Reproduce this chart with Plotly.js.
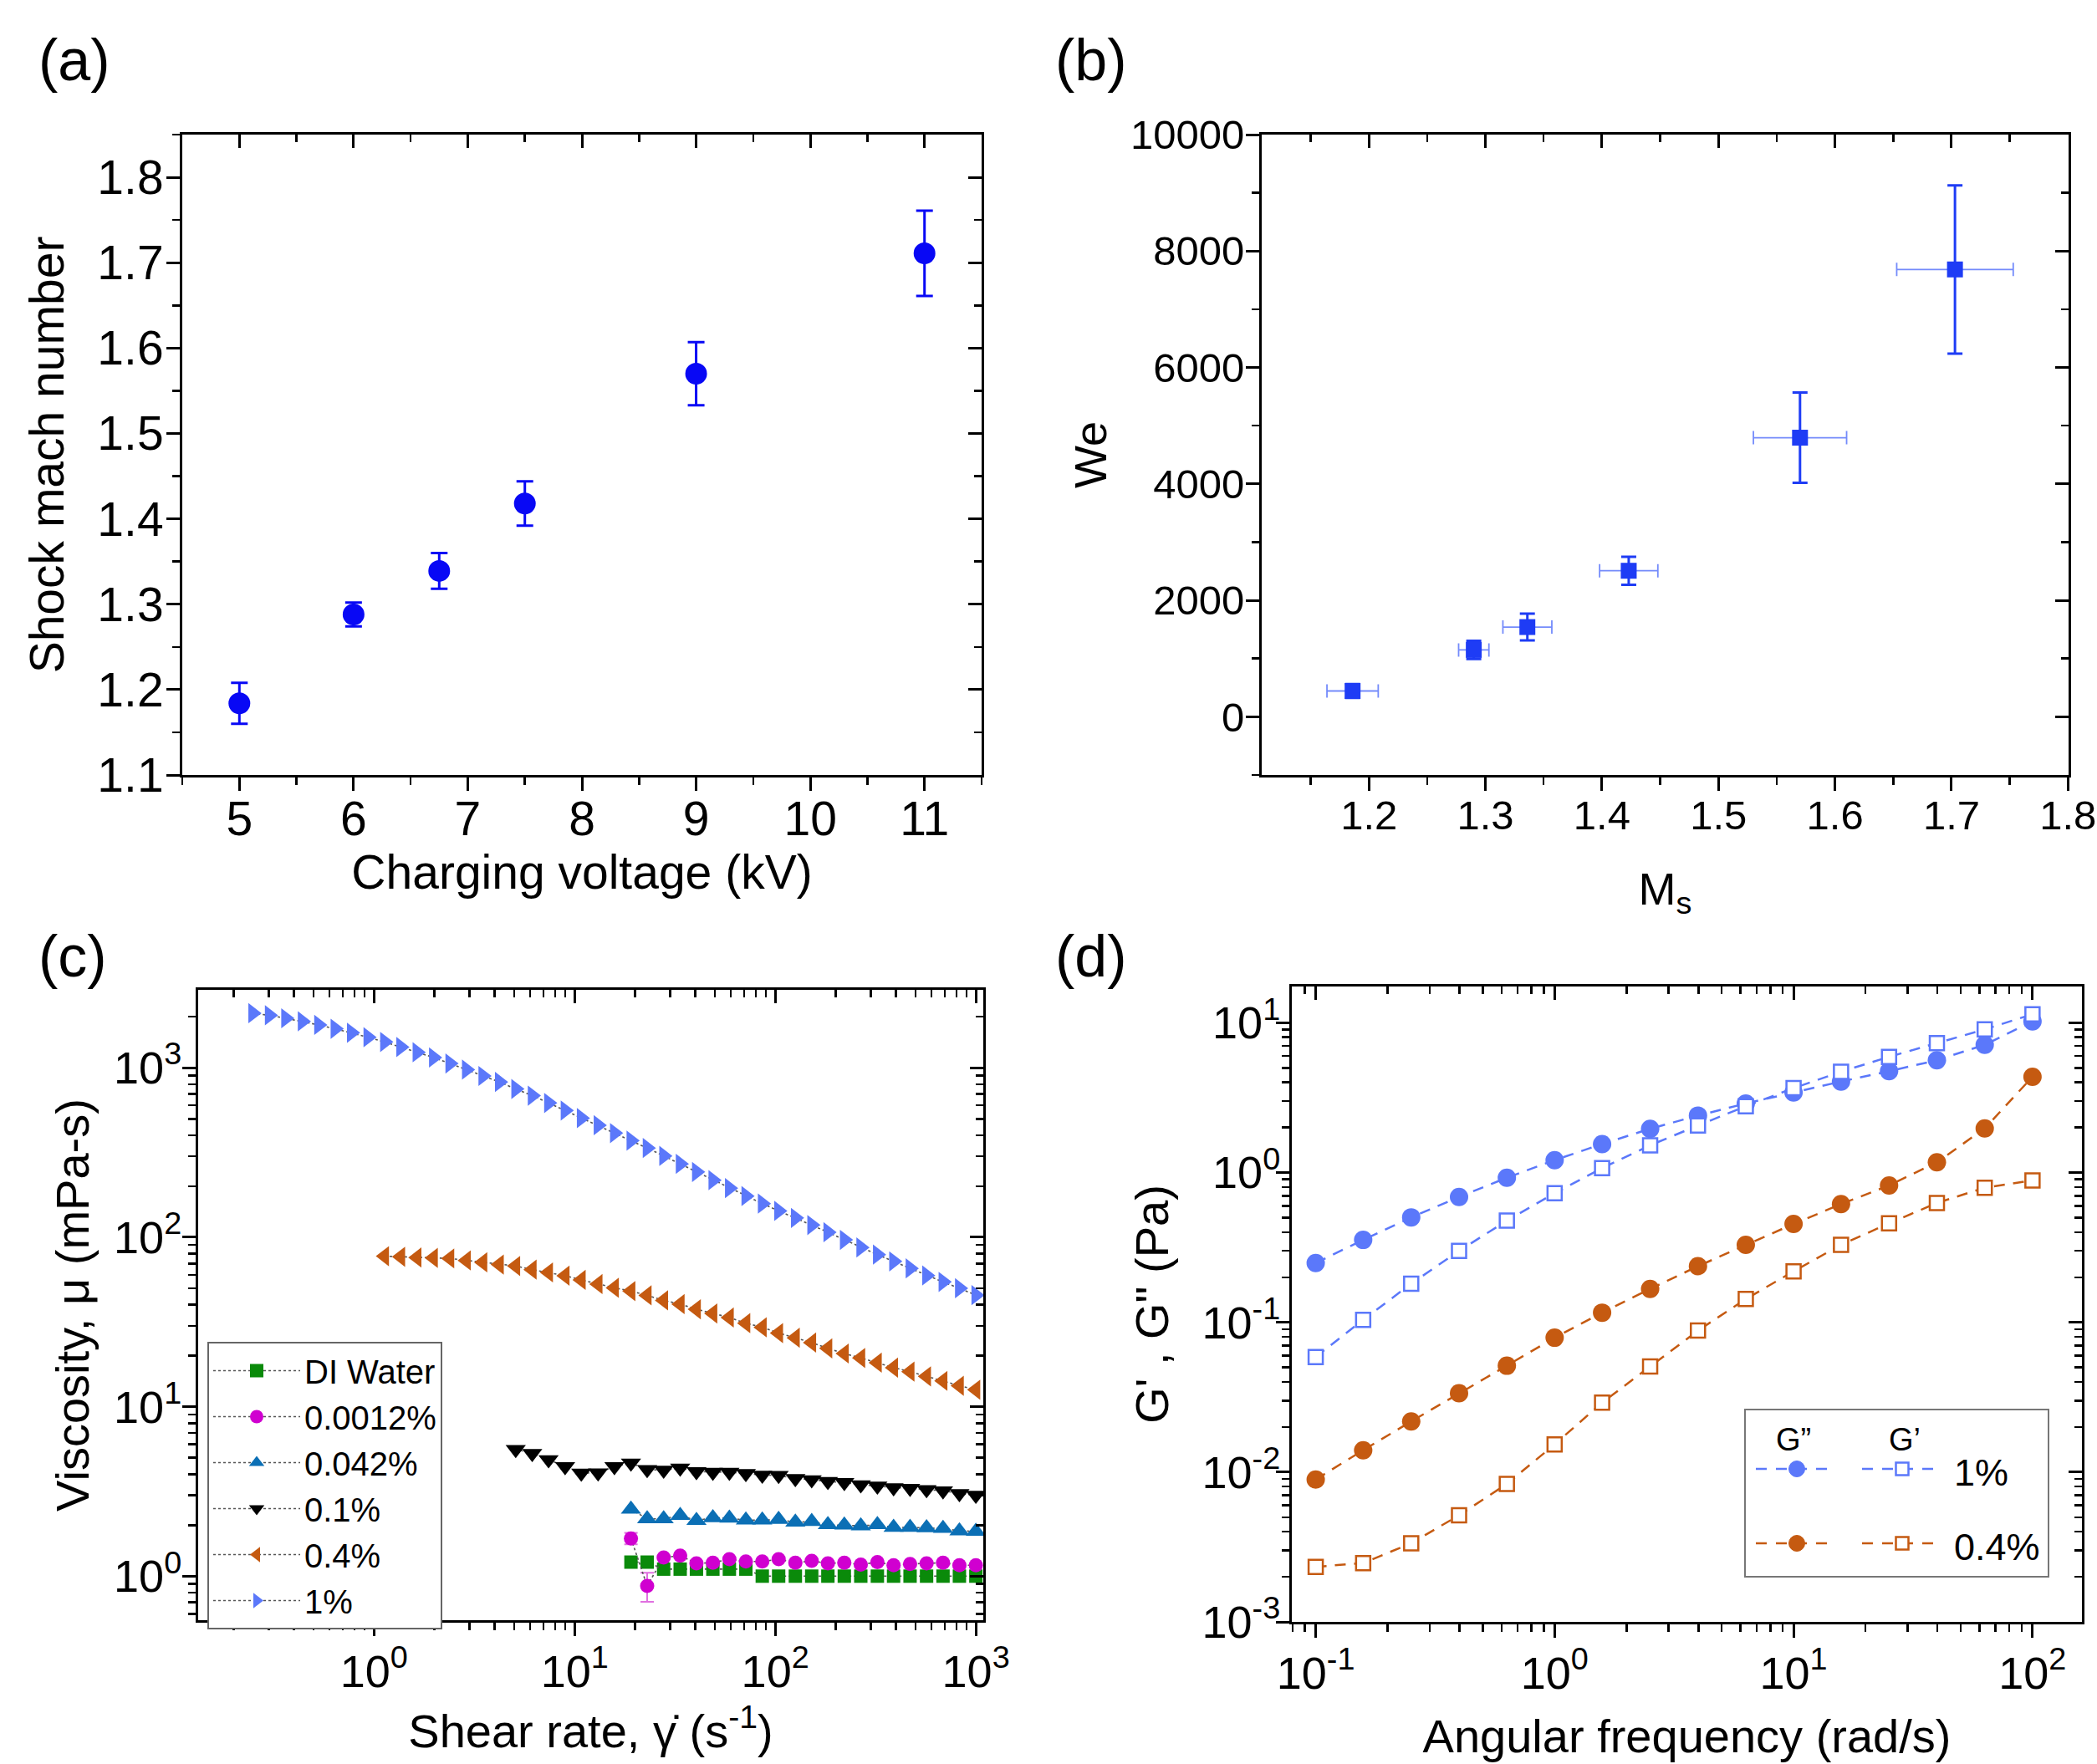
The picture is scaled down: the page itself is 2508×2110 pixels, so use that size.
<!DOCTYPE html>
<html><head><meta charset="utf-8">
<script src="https://cdn.plot.ly/plotly-3.0.1.min.js"></script>
<style>html,body{margin:0;padding:0;background:#fff}#chart{width:2508px;height:2110px}</style>
</head><body><div id="chart"></div>
<script>
// ---------- (a) Shock Mach number vs charging voltage ----------
const voltage = [5, 6, 6.75, 7.5, 9, 11];
const machNumber = [1.184, 1.288, 1.339, 1.418, 1.570, 1.711];
const machErr = [0.024, 0.014, 0.021, 0.026, 0.037, 0.050];

// ---------- (b) We vs Ms ----------
const msValues = [1.186, 1.290, 1.336, 1.423, 1.570, 1.703];
const msErr = [0.022, 0.013, 0.021, 0.025, 0.040, 0.050];
const weValues = [443, 1148, 1541, 2508, 4794, 7684];
const weErr = [120, 156, 230, 240, 775, 1445];

// ---------- (c) Viscosity vs shear rate ----------
const shearRate = [0.249, 0.301, 0.363, 0.439, 0.530, 0.640, 0.772, 0.933, 1.13, 1.36, 1.64, 1.98, 2.39, 2.89, 3.49, 4.22,
  5.09, 6.15, 7.42, 8.97, 10.8, 13.1, 15.8, 19.1, 23.0, 27.8, 33.6, 40.5, 48.9, 59.1, 71.4, 86.2, 104, 126, 152, 183,
  221, 267, 323, 389, 470, 568, 686, 828, 1000];
const visc1 = [2100, 2040, 1960, 1880, 1790, 1700, 1610, 1515, 1420, 1325, 1235, 1150, 1060, 975, 895, 825, 750, 685,
  620, 560, 505, 458, 412, 372, 336, 302, 271, 243, 217, 195, 175, 158, 143, 130, 118, 107, 96.5, 87, 79, 72, 65.5,
  59.5, 54.5, 50, 45.5];
const visc04 = [77.3, 76.7, 75.9, 75.5, 75.0, 73.0, 71.1, 69.0, 67.7, 64.4, 62.0, 59.3, 56.0, 52.9, 50.3, 48.1, 45.4,
  42.4, 40.3, 37.6, 35.5, 33.6, 31.1, 29.4, 27.2, 25.5, 23.9, 22.1, 20.6, 19.4, 18.2, 17.0, 16.1, 15.1, 14.2, 13.3, 12.6];
const visc01 = [5.6, 5.3, 4.87, 4.43, 4.06, 4.07, 4.43, 4.65, 4.26, 4.22, 4.35, 4.14, 4.11, 4.10, 4.03, 3.95, 3.93,
  3.77, 3.71, 3.62, 3.57, 3.46, 3.40, 3.33, 3.30, 3.24, 3.19, 3.07, 3.00];
const visc0042 = [2.48, 2.18, 2.18, 2.28, 2.13, 2.21, 2.20, 2.14, 2.14, 2.16, 2.08, 2.10, 2.01, 2.00, 1.98, 2.01, 1.94,
  1.94, 1.93, 1.91, 1.85, 1.84];
const visc00012 = [1.67, 0.876, 1.29, 1.32, 1.19, 1.20, 1.26, 1.22, 1.22, 1.26, 1.20, 1.23, 1.19, 1.20, 1.17, 1.21,
  1.16, 1.18, 1.19, 1.20, 1.16, 1.16];
const visc00012Err = [0.13, 0.17, 0.02, 0.02, 0.02, 0.02, 0.02, 0.02, 0.02, 0.02, 0.02, 0.02, 0.02, 0.02, 0.02, 0.02,
  0.02, 0.02, 0.02, 0.02, 0.02, 0.02];
const viscWater = [1.21, 1.21, 1.10, 1.10, 1.10, 1.10, 1.10, 1.10, 1.00, 1.00, 1.00, 1.00, 1.00, 1.00, 1.00, 1.00,
  1.00, 1.00, 1.00, 1.00, 1.00, 1.00];
const viscLabels = ['DI Water', '0.0012%', '0.042%', '0.1%', '0.4%', '1%'];

// ---------- (d) G', G'' vs angular frequency ----------
const angFreq = [0.1, 0.158, 0.251, 0.398, 0.631, 1, 1.58, 2.51, 3.98, 6.31, 10, 15.8, 25.1, 39.8, 63.1, 100];
const gpp1 = [0.249, 0.355, 0.502, 0.687, 0.923, 1.21, 1.55, 1.96, 2.40, 2.89, 3.42, 4.05, 4.75, 5.62, 7.13, 10.2];
const gp1 = [0.0587, 0.104, 0.181, 0.300, 0.477, 0.728, 1.07, 1.52, 2.06, 2.77, 3.66, 4.71, 5.92, 7.31, 9.03, 11.4];
const gpp04 = [0.00892, 0.0140, 0.0218, 0.0336, 0.0513, 0.0789, 0.116, 0.167, 0.237, 0.329, 0.454, 0.615, 0.820,
  1.17, 1.97, 4.36];
const gp04 = [0.00233, 0.00247, 0.00335, 0.00515, 0.00834, 0.0153, 0.0291, 0.0508, 0.0880, 0.143, 0.219, 0.329,
  0.458, 0.626, 0.792, 0.885];

// log tick labels
const cXTickVals = [1, 10, 100, 1000];
const cXTickText = ['10<sup>0</sup>', '10<sup>1</sup>', '10<sup>2</sup>', '10<sup>3</sup>'];
const cYTickVals = [1, 10, 100, 1000];
const cYTickText = ['10<sup>0</sup>', '10<sup>1</sup>', '10<sup>2</sup>', '10<sup>3</sup>'];
const dXTickVals = [0.1, 1, 10, 100];
const dXTickText = ['10<sup>-1</sup>', '10<sup>0</sup>', '10<sup>1</sup>', '10<sup>2</sup>'];
const dYTickVals = [0.001, 0.01, 0.1, 1, 10];
const dYTickText = ['10<sup>-3</sup>', '10<sup>-2</sup>', '10<sup>-1</sup>', '10<sup>0</sup>', '10<sup>1</sup>'];

// ---------- styling ----------
const W = 2508, H = 2110;
const F = 'Liberation Sans, Arial, Helvetica, sans-serif';
const fnt = s => ({family: F, size: s, color: '#000'});
const BLUE_A = '#0808f5';
const BLUE_B = '#1e3cf5';
const BLUE_L = '#5b78fa';
const ORANGE = '#c55a11';
const px = v => v / W;
const py = v => 1 - v / H;

function logMinor(e0, e1) {
  const v = [];
  for (let e = e0; e < e1; e++) for (let m = 2; m <= 9; m++) v.push(m * Math.pow(10, e));
  return v;
}
function axis(o) {
  return Object.assign({
    showline: true, linecolor: '#000', linewidth: 3,
    ticks: 'outside', ticklen: 16, tickwidth: 3, tickcolor: '#000',
    showgrid: false, zeroline: false, fixedrange: true
  }, o);
}
function mirror(main, overlayId, anchorId, side) {
  const m = Object.assign({}, main, {
    overlaying: overlayId, anchor: anchorId, side: side, ticks: 'inside', showticklabels: false
  });
  m.minor = Object.assign({}, main.minor, {ticks: 'inside'});
  delete m.domain;
  delete m.title;
  return m;
}
const minorLin = d => ({dtick: d, ticks: 'outside', ticklen: 9, tickwidth: 2.5, tickcolor: '#000', showgrid: false});
const minorLog = vals => ({tickmode: 'array', tickvals: vals, ticks: 'outside', ticklen: 9, tickwidth: 2.5, tickcolor: '#000', showgrid: false});

// domains
const dom = {
  a: {x: [px(218), px(1174)], y: [py(927), py(161)]},
  b: {x: [px(1509), px(2474)], y: [py(927), py(161)]},
  c: {x: [px(237), px(1176)], y: [py(1938), py(1184)]},
  d: {x: [px(1545), px(2490)], y: [py(1940), py(1180)]}
};

const xa = axis({domain: dom.a.x, anchor: 'y', range: [4.5, 11.5], tickmode: 'linear', tick0: 5, dtick: 1, minor: minorLin(0.5),
  tickfont: fnt(57), ticklabelstandoff: -15,
  title: {text: 'Charging voltage (kV)', font: fnt(57), standoff: 10}});
const ya = axis({domain: dom.a.y, anchor: 'x', range: [1.1, 1.85], tickmode: 'linear', tick0: 1.1, dtick: 0.1, minor: minorLin(0.05),
  tickformat: '.1f', tickfont: fnt(57), ticklabelstandoff: -8,
  title: {text: 'Shock mach number', font: fnt(57), standoff: 22}});
const xb = axis({domain: dom.b.x, anchor: 'y2', range: [1.108, 1.8005], tickmode: 'linear', tick0: 1.2, dtick: 0.1, minor: minorLin(0.05),
  tickformat: '.1f', tickfont: fnt(49), ticklabelstandoff: -13,
  title: {text: 'M<sub>s</sub>', font: fnt(54), standoff: 44}});
const yb = axis({domain: dom.b.y, anchor: 'x2', range: [-1000, 10000], tickmode: 'linear', tick0: 0, dtick: 2000, minor: minorLin(1000),
  tickformat: 'd', tickfont: fnt(49), ticklabelstandoff: -8,
  title: {text: 'We', font: fnt(54), standoff: 12}});
const xc = axis({domain: dom.c.x, anchor: 'y3', type: 'log', range: [-0.876, 3.037], tickmode: 'array', tickvals: cXTickVals,
  ticktext: cXTickText, minor: minorLog(logMinor(-1, 4)), tickfont: fnt(54), ticklabelstandoff: -4,
  title: {text: 'Shear rate, γ̇ (s<sup>-1</sup>)', font: fnt(56), standoff: 24}});
const yc = axis({domain: dom.c.y, anchor: 'x3', type: 'log', range: [-0.26, 3.46], tickmode: 'array', tickvals: cYTickVals,
  ticktext: cYTickText, minor: minorLog(logMinor(-1, 4)), tickfont: fnt(54), ticklabelstandoff: -10,
  title: {text: 'Viscosity, μ (mPa-s)', font: fnt(56), standoff: 12}});
const xd = axis({domain: dom.d.x, anchor: 'y4', type: 'log', range: [-1.10, 2.207], tickmode: 'array', tickvals: dXTickVals,
  ticktext: dXTickText, minor: minorLog(logMinor(-2, 3)), tickfont: fnt(54), ticklabelstandoff: -4,
  title: {text: 'Angular frequency (rad/s)', font: fnt(56), standoff: 28}});
const yd = axis({domain: dom.d.y, anchor: 'x4', type: 'log', range: [-3, 1.242], tickmode: 'array', tickvals: dYTickVals,
  ticktext: dYTickText, minor: minorLog(logMinor(-3, 2)), tickfont: fnt(54), ticklabelstandoff: -16,
  title: {text: 'G\' , G" (Pa)', font: fnt(56), standoff: 22}});

const lineC = {color: '#555', width: 1.6, dash: 'dot'};
const traces = [
  // (a)
  {type: 'scatter', mode: 'markers', x: voltage, y: machNumber, xaxis: 'x', yaxis: 'y', showlegend: false,
    marker: {color: BLUE_A, size: 26, symbol: 'circle'},
    error_y: {type: 'data', array: machErr, color: BLUE_A, thickness: 3, width: 10}},
  // (b)
  {type: 'scatter', mode: 'markers', x: msValues, y: weValues, xaxis: 'x2', yaxis: 'y2', showlegend: false,
    marker: {color: BLUE_B, size: 19, symbol: 'square'},
    error_y: {type: 'data', array: weErr, color: BLUE_B, thickness: 3, width: 9},
    error_x: {type: 'data', array: msErr, color: 'rgba(70,100,250,0.75)', thickness: 1.8, width: 8}},
  // (c)
  {type: 'scatter', mode: 'lines+markers', name: viscLabels[0], x: shearRate.slice(23), y: viscWater, xaxis: 'x3', yaxis: 'y3',
    line: lineC, marker: {color: '#0a8a0a', size: 16, symbol: 'square'}},
  {type: 'scatter', mode: 'lines+markers', name: viscLabels[1], x: shearRate.slice(23), y: visc00012, xaxis: 'x3', yaxis: 'y3',
    line: lineC, marker: {color: '#d000d0', size: 17, symbol: 'circle'},
    error_y: {type: 'data', array: visc00012Err, color: '#e070e0', thickness: 2, width: 8}},
  {type: 'scatter', mode: 'lines+markers', name: viscLabels[2], x: shearRate.slice(23), y: visc0042, xaxis: 'x3', yaxis: 'y3',
    line: lineC, marker: {color: '#0b6fb5', size: 21, symbol: 'triangle-up'}},
  {type: 'scatter', mode: 'lines+markers', name: viscLabels[3], x: shearRate.slice(16), y: visc01, xaxis: 'x3', yaxis: 'y3',
    line: lineC, marker: {color: '#000', size: 21, symbol: 'triangle-down'}},
  {type: 'scatter', mode: 'lines+markers', name: viscLabels[4], x: shearRate.slice(8), y: visc04, xaxis: 'x3', yaxis: 'y3',
    line: lineC, marker: {color: ORANGE, size: 21, symbol: 'triangle-left'}},
  {type: 'scatter', mode: 'lines+markers', name: viscLabels[5], x: shearRate, y: visc1, xaxis: 'x3', yaxis: 'y3',
    line: lineC, marker: {color: BLUE_L, size: 21, symbol: 'triangle-right'}},
  // (d)
  {type: 'scatter', mode: 'lines+markers', x: angFreq, y: gpp1, xaxis: 'x4', yaxis: 'y4', showlegend: false,
    line: {color: BLUE_L, width: 2.5, dash: '13px,10px'}, marker: {color: BLUE_L, size: 22, symbol: 'circle'}},
  {type: 'scatter', mode: 'lines+markers', x: angFreq, y: gp1, xaxis: 'x4', yaxis: 'y4', showlegend: false,
    line: {color: BLUE_L, width: 2.5, dash: '13px,10px'},
    marker: {color: '#fff', size: 17, symbol: 'square', line: {color: BLUE_L, width: 2.5}}},
  {type: 'scatter', mode: 'lines+markers', x: angFreq, y: gpp04, xaxis: 'x4', yaxis: 'y4', showlegend: false,
    line: {color: ORANGE, width: 2.5, dash: '13px,10px'}, marker: {color: ORANGE, size: 22, symbol: 'circle'}},
  {type: 'scatter', mode: 'lines+markers', x: angFreq, y: gp04, xaxis: 'x4', yaxis: 'y4', showlegend: false,
    line: {color: ORANGE, width: 2.5, dash: '13px,10px'},
    marker: {color: '#fff', size: 17, symbol: 'square', line: {color: ORANGE, width: 2.5}}}
];
// empty traces so the mirrored (top/right) axes are drawn
[['x5', 'y5'], ['x6', 'y6'], ['x7', 'y7'], ['x8', 'y8']].forEach(p => traces.push(
  {type: 'scatter', mode: 'markers', x: [], y: [], xaxis: p[0], yaxis: p[1], showlegend: false, hoverinfo: 'skip'}));

// legend of panel (d) drawn as a small key
const legD = {x0: 2087, x1: 2450, y0: 1686, y1: 1886, row1: 1757, row2: 1846,
  s1: [2100, 2196], s2: [2227, 2323], m1: 2149, m2: 2275, text: 2335};
const shapes = [
  {type: 'rect', xref: 'paper', yref: 'paper', x0: px(legD.x0), x1: px(legD.x1), y0: py(legD.y1), y1: py(legD.y0),
    line: {color: '#777', width: 2}, fillcolor: 'rgba(255,255,255,0)'}
];
[[legD.row1, BLUE_L], [legD.row2, ORANGE]].forEach(([ry, col]) => {
  [legD.s1, legD.s2].forEach(s => shapes.push({type: 'line', xref: 'paper', yref: 'paper', x0: px(s[0]), x1: px(s[1]),
    y0: py(ry), y1: py(ry), line: {color: col, width: 2.5, dash: '13px,11px'}}));
  shapes.push({type: 'circle', xref: 'paper', yref: 'paper', xsizemode: 'pixel', ysizemode: 'pixel',
    xanchor: px(legD.m1), yanchor: py(ry), x0: -9.5, x1: 9.5, y0: -9.5, y1: 9.5, fillcolor: col, line: {color: col, width: 1}});
  shapes.push({type: 'rect', xref: 'paper', yref: 'paper', xsizemode: 'pixel', ysizemode: 'pixel',
    xanchor: px(legD.m2), yanchor: py(ry), x0: -7.5, x1: 7.5, y0: -7.5, y1: 7.5, fillcolor: '#fff', line: {color: col, width: 2.5}});
});

const ann = (text, x, y, size, xanchor) => ({text: text, xref: 'paper', yref: 'paper', x: x, y: y, xanchor: xanchor || 'left',
  yanchor: 'middle', showarrow: false, font: fnt(size)});
const annotations = [
  ann('(a)', px(44), py(72), 70), ann('(b)', px(1260), py(72), 70),
  ann('(c)', px(44), py(1144), 70), ann('(d)', px(1260), py(1144), 70),
  ann('G”', px(2145), py(1722), 38, 'center'), ann('G’', px(2278), py(1722), 38, 'center'),
  ann('1%', px(legD.text), py(legD.row1 + 4), 45), ann('0.4%', px(legD.text), py(legD.row2 + 4), 45)
];

const layout = {
  width: W, height: H, margin: {l: 0, r: 0, t: 0, b: 0},
  paper_bgcolor: '#fff', plot_bgcolor: '#fff',
  font: {family: F, color: '#000'},
  xaxis: xa, yaxis: ya, xaxis2: xb, yaxis2: yb, xaxis3: xc, yaxis3: yc, xaxis4: xd, yaxis4: yd,
  xaxis5: mirror(xa, 'x', 'y', 'top'), yaxis5: mirror(ya, 'y', 'x', 'right'),
  xaxis6: mirror(xb, 'x2', 'y2', 'top'), yaxis6: mirror(yb, 'y2', 'x2', 'right'),
  xaxis7: mirror(xc, 'x3', 'y3', 'top'), yaxis7: mirror(yc, 'y3', 'x3', 'right'),
  xaxis8: mirror(xd, 'x4', 'y4', 'top'), yaxis8: mirror(yd, 'y4', 'x4', 'right'),
  showlegend: true,
  legend: {x: px(248), y: py(1605), xanchor: 'left', yanchor: 'top', bgcolor: '#fff', bordercolor: '#666', borderwidth: 2,
    font: fnt(40), itemwidth: 104, tracegroupgap: 0, traceorder: 'normal'},
  shapes: shapes, annotations: annotations
};

Plotly.newPlot('chart', traces, layout, {staticPlot: true, displayModeBar: false});
</script>
</body></html>
